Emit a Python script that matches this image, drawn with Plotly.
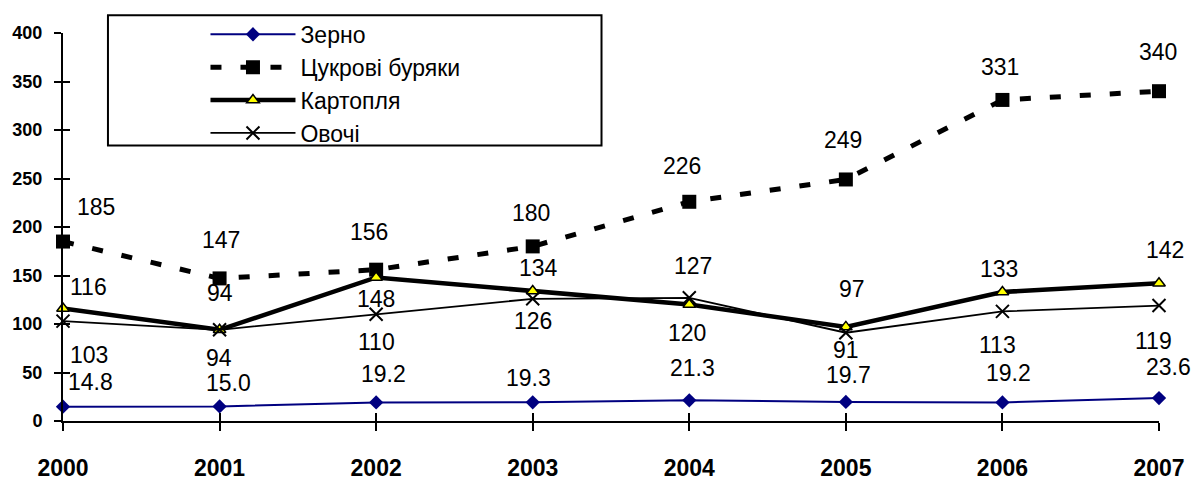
import plotly.graph_objects as go

years = [2000, 2001, 2002, 2003, 2004, 2005, 2006, 2007]
year_labels = ["2000", "2001", "2002", "2003", "2004", "2005", "2006", "2007"]

grain = [14.8, 15.0, 19.2, 19.3, 21.3, 19.7, 19.2, 23.6]
sugar_beet = [185, 147, 156, 180, 226, 249, 331, 340]
potato = [116, 94, 148, 134, 120, 97, 133, 142]
vegetables = [103, 94, 110, 126, 127, 91, 113, 119]

grain_text = ["14.8", "15.0", "19.2", "19.3", "21.3", "19.7", "19.2", "23.6"]
sugar_text = [str(v) for v in sugar_beet]
potato_text = [str(v) for v in potato]
veg_text = [str(v) for v in vegetables]

names = ["Зерно", "Цукрові буряки", "Картопля", "Овочі"]

y_ticks = [0, 50, 100, 150, 200, 250, 300, 350, 400]

# label offsets in pixels (dx right, dy down)
grain_off = [(27, -25), (9, -23), (7, -28), (-4, -24), (3, -32), (3, -27), (6, -29), (9, -31)]
sugar_off = [(33, -35), (1, -38), (-7, -38), (-2, -33), (-7, -36), (-3, -39), (-2, -33), (-1, -39)]
potato_off = [(25, -21), (0, -37), (0, 22), (6, -23), (-2, 28), (6, -38), (-3, -23), (6, -33)]
veg_off = [(26, 34), (-1, 28), (0, 28), (0, 22), (4, -32), (0, 17), (-5, 34), (-6, 35)]

FONT = "Arial, Liberation Sans, sans-serif"

fig = go.Figure()

fig.add_trace(go.Scatter(
    x=years, y=grain, name=names[0], mode="lines+markers",
    line=dict(color="#000080", width=2),
    marker=dict(symbol="diamond", size=11, color="#000080"),
    cliponaxis=False,
))
fig.add_trace(go.Scatter(
    x=years, y=sugar_beet, name=names[1], mode="lines+markers",
    line=dict(color="black", width=5, dash="11px,19px"),
    marker=dict(symbol="square", size=14, color="black"),
    cliponaxis=False,
))
fig.add_trace(go.Scatter(
    x=years, y=potato, name=names[2], mode="lines+markers",
    line=dict(color="black", width=4.5),
    marker=dict(symbol="triangle-up", size=11, color="#FFFF00",
                line=dict(color="black", width=1.5)),
    cliponaxis=False,
))
fig.add_trace(go.Scatter(
    x=years, y=vegetables, name=names[3], mode="lines+markers",
    line=dict(color="black", width=1.8),
    marker=dict(symbol="x-thin", size=13, line=dict(color="black", width=2)),
    cliponaxis=False, xaxis="x2", yaxis="y2",
))

annotations = []
for vals, texts, offs in [(grain, grain_text, grain_off), (sugar_beet, sugar_text, sugar_off),
                          (potato, potato_text, potato_off), (vegetables, veg_text, veg_off)]:
    for xv, yv, t, (dx, dy) in zip(years, vals, texts, offs):
        annotations.append(dict(
            x=xv, y=yv, xref="x", yref="y", text=t, showarrow=False,
            xshift=dx, yshift=-dy, font=dict(family=FONT, size=23, color="black"),
            xanchor="center", yanchor="middle",
        ))

axis_common = dict(showgrid=False, zeroline=False)

fig.update_layout(
    width=1198, height=493, autosize=False,
    margin=dict(l=62, r=39, t=33, b=46, pad=0),
    plot_bgcolor="white", paper_bgcolor="white",
    font=dict(family=FONT, color="black"),
    xaxis=dict(range=[2000, 2007], tickvals=years, ticktext=year_labels,
               showline=True, linecolor="black", linewidth=2,
               ticks="outside", ticklen=8, tickwidth=2, tickcolor="black",
               tickfont=dict(family=FONT, size=23, color="black", weight="bold"),
               ticklabelstandoff=17, **axis_common),
    yaxis=dict(range=[0, 400], tickvals=y_ticks,
               showline=True, linecolor="black", linewidth=2,
               ticks="outside", ticklen=7, tickwidth=2, tickcolor="black",
               tickfont=dict(family=FONT, size=18, color="black", weight="bold"),
               ticklabelstandoff=8, **axis_common),
    xaxis2=dict(range=[2000, 2007], tickvals=years, overlaying="x", anchor="y2",
                showline=False, ticks="inside", ticklen=8, tickwidth=2, tickcolor="black",
                showticklabels=False, **axis_common),
    yaxis2=dict(range=[0, 400], tickvals=y_ticks, overlaying="y", anchor="x2",
                showline=False, ticks="inside", ticklen=7, tickwidth=2, tickcolor="black",
                showticklabels=False, **axis_common),
    legend=dict(x=0.13, y=1.052, xanchor="left", yanchor="top",
                bgcolor="rgba(0,0,0,0)", borderwidth=0,
                font=dict(family=FONT, size=23, color="black"),
                itemwidth=85, tracegroupgap=0),
    showlegend=True,
    annotations=annotations,
    shapes=[dict(type="rect", xref="paper", yref="paper",
                 x0=(107 - 62) / 1097, x1=(601 - 62) / 1097,
                 y0=(447 - 153) / 414, y1=(447 - 14) / 414,
                 line=dict(color="black", width=2), fillcolor="rgba(0,0,0,0)",
                 layer="below")],
)

fig.write_html("out.html", config={"displayModeBar": False},
               post_script="document.body.style.margin='0px';")
